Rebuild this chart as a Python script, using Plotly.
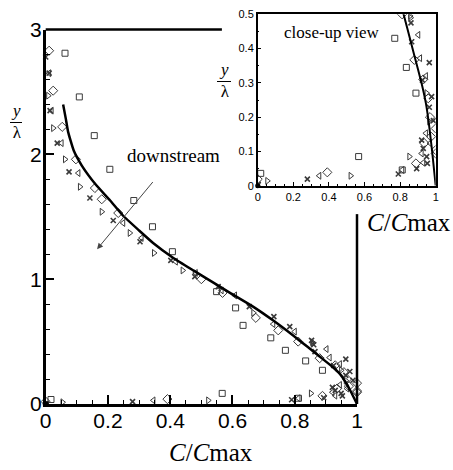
import plotly.graph_objects as go

W, H = 453, 470

# ---------------- data ----------------
curve_C = [0.056, 0.065, 0.072, 0.09, 0.116, 0.16, 0.207, 0.248, 0.30, 0.345, 0.41, 0.474, 0.54, 0.592,
           0.666, 0.73, 0.794, 0.84, 0.88, 0.92, 0.945, 0.962, 0.98, 1.0]
curve_y = [2.40, 2.28, 2.18, 2.03, 1.91, 1.76, 1.63, 1.51, 1.39, 1.29, 1.17, 1.07, 0.97, 0.89,
           0.78, 0.67, 0.55, 0.46, 0.38, 0.30, 0.24, 0.18, 0.10, 0.0]

sq_C = [0.062, 0.108, 0.156, 0.206, 0.283, 0.343, 0.407, 0.549, 0.61, 0.634, 0.723, 0.77, 0.835, 0.889, 0.567, 0.017, 0.812]
sq_y = [2.81, 2.46, 2.15, 1.88, 1.63, 1.42, 1.22, 0.90, 0.77, 0.63, 0.53, 0.43, 0.345, 0.27, 0.085, 0.036, 0.046]

dia_C = [0.011, 0.024, 0.053, 0.097, 0.158, 0.18, 0.233, 0.50, 0.568, 0.675, 0.747, 0.811, 0.88, 0.93, 0.958,
         0.968, 1.0, 0.974, 0.936, 1.0, 1.0, 0.889, 0.391, 0.0]
dia_y = [2.83, 2.51, 2.22, 1.96, 1.73, 1.64, 1.53, 1.0, 0.89, 0.69, 0.59, 0.50, 0.367, 0.31, 0.255,
         0.20, 0.167, 0.143, 0.124, 0.104, 0.094, 0.065, 0.039, 0.019]

tr_C = [0.008, 0.024, 0.062, 0.11, 0.18, 0.27, 0.348, 0.44, 0.667, 0.859, 0.856, 0.949, 0.964, 0.852, 0.054, 0.522]
tr_y = [2.47, 2.21, 1.96, 1.74, 1.54, 1.37, 1.21, 1.07, 0.73, 0.49, 0.495, 0.27, 0.187, 0.085, 0.014, 0.029]

tl_C = [0.011, 0.019, 0.051, 0.105, 0.249, 0.308, 0.418, 0.482, 0.565, 0.608, 0.731, 0.80, 0.902, 0.912, 0.945,
        0.945, 0.968, 0.921, 0.93, 0.812, 0.346]
tl_y = [2.65, 2.35, 2.09, 1.85, 1.45, 1.33, 1.14, 1.05, 0.91, 0.87, 0.64, 0.58, 0.44, 0.372, 0.32,
        0.153, 0.124, 0.094, 0.067, 0.046, 0.029]

x_C = [0.0, 0.011, 0.014, 0.037, 0.075, 0.142, 0.217, 0.303, 0.402, 0.479, 0.554, 0.654, 0.733, 0.784, 0.854,
       0.861, 0.865, 0.964, 0.925, 0.977, 0.964, 0.987, 0.921, 0.93, 0.949, 0.953, 0.893, 0.79, 0.279, 0.0, 0.003]
x_y = [2.78, 2.65, 2.35, 2.09, 1.86, 1.65, 1.47, 1.30, 1.15, 1.02, 0.94, 0.78, 0.70, 0.62, 0.51,
       0.475, 0.42, 0.359, 0.308, 0.26, 0.229, 0.19, 0.133, 0.109, 0.085, 0.065, 0.05, 0.034, 0.019, 0.0, 0.004]

origin_C = [0.0]
origin_y = [0.0]

main_xticks = [0, 0.2, 0.4, 0.6, 0.8, 1]
main_yticks = [0, 1, 2, 3]
inset_xticks = [0, 0.2, 0.4, 0.6, 0.8, 1]
inset_yticks = [0, 0.1, 0.2, 0.3, 0.4, 0.5]

# ---------------- helpers ----------------
def px(xp):
    return xp / W

def py(yp):
    return 1 - yp / H

MK = "#3a3a3a"
series = [
    (sq_C, sq_y, "square-open", 6),
    (dia_C, dia_y, "diamond-open", 7),
    (tr_C, tr_y, "triangle-right-open", 6),
    (tl_C, tl_y, "triangle-left-open", 6),
    (x_C, x_y, "x-thin-open", 5),
]

fig = go.Figure()
for xa, ya, clip in (("x", "y", False), ("x2", "y2", True)):
    for cx, cy, sym, sz in series:
        fig.add_trace(go.Scatter(
            x=cx, y=cy, mode="markers", xaxis=xa, yaxis=ya, cliponaxis=clip,
            marker=dict(symbol=sym, size=sz, color=MK, line=dict(color=MK, width=1.6 if sym.startswith("x") else 1)),
            showlegend=False, hoverinfo="skip"))
    fig.add_trace(go.Scatter(
        x=curve_C, y=curve_y, mode="lines", xaxis=xa, yaxis=ya, cliponaxis=True,
        line=dict(color="black", width=2.5 if xa == "x" else 2, shape="spline", smoothing=0.4),
        showlegend=False, hoverinfo="skip"))
    fig.add_trace(go.Scatter(
        x=origin_C, y=origin_y, mode="markers", xaxis=xa, yaxis=ya, cliponaxis=False,
        marker=dict(symbol="circle", size=6 if xa == "x" else 5, color="black"),
        showlegend=False, hoverinfo="skip"))

tickfont_main = dict(family="Liberation Sans, Arial, sans-serif", size=21, color="black")
tickfont_in = dict(family="Liberation Sans, Arial, sans-serif", size=11, color="black")

common = dict(showgrid=False, zeroline=False, automargin=False, linecolor="black", showline=True)

fig.update_layout(
    width=W, height=H,
    margin=dict(l=0, r=0, t=0, b=0, autoexpand=False),
    paper_bgcolor="white", plot_bgcolor="rgba(0,0,0,0)",
    showlegend=False,
    xaxis=dict(domain=[px(45.7), px(357)], range=[0, 1], anchor="y", linewidth=2.5,
               ticks="inside", ticklen=9, tickwidth=2, tickcolor="black",
               tickvals=main_xticks, tickfont=tickfont_main, ticklabelstandoff=-4,
               minor=dict(dtick=0.05, ticks="inside", ticklen=4, tickwidth=1, tickcolor="black"), **common),
    yaxis=dict(domain=[py(404), py(29.5)], range=[0, 3], anchor="x", linewidth=2.5,
               ticks="inside", ticklen=9, tickwidth=2, tickcolor="black",
               tickvals=main_yticks, tickfont=tickfont_main, ticklabelstandoff=-3,
               minor=dict(dtick=0.2, ticks="inside", ticklen=5, tickwidth=1, tickcolor="black"), **common),
    xaxis2=dict(domain=[px(257.7), px(435.7)], range=[0, 1], anchor="y2", mirror=True, linewidth=1.5,
                ticks="inside", ticklen=4, tickwidth=1, tickcolor="black",
                tickvals=inset_xticks, tickfont=tickfont_in,
                minor=dict(dtick=0.05, ticks="inside", ticklen=2, tickwidth=1, tickcolor="black"), **common),
    yaxis2=dict(domain=[py(185.7), py(14.3)], range=[0, 0.5], anchor="x2", mirror=True, linewidth=1.5,
                ticks="inside", ticklen=4, tickwidth=1, tickcolor="black",
                tickvals=inset_yticks, tickfont=tickfont_in,
                minor=dict(dtick=0.05, ticks="inside", ticklen=2, tickwidth=1, tickcolor="black"), **common),
)

# partial frame of main plot (hidden behind the inset corner)
fig.add_shape(type="line", xref="x domain", yref="y domain", x0=0, x1=0.566, y0=1, y1=1,
              line=dict(color="black", width=2.5))
fig.add_shape(type="line", xref="x domain", yref="y domain", x0=1, x1=1, y0=0, y1=0.507,
              line=dict(color="black", width=2.5))

serif = "Liberation Serif, Times New Roman, serif"
ctitle = "<i>C</i>/<i>C</i>max"
# axis titles
fig.add_annotation(x=px(211), y=py(452), xref="paper", yref="paper", text=ctitle, showarrow=False,
                   xanchor="center", yanchor="middle", font=dict(family=serif, size=25, color="black"))
fig.add_annotation(x=px(409), y=py(222), xref="paper", yref="paper", text=ctitle, showarrow=False,
                   xanchor="center", yanchor="middle", font=dict(family=serif, size=25, color="black"))

# y / lambda fractions (single text block each, with a fraction bar)
for cx, cy, half in ((16, 121.5, 6), (224, 80.5, 7)):
    fig.add_annotation(x=px(cx), y=py(cy), xref="paper", yref="paper", text="<i>y</i><br>λ", showarrow=False,
                       xanchor="center", yanchor="middle", align="center",
                       font=dict(family=serif, size=17, color="black"))
    fig.add_shape(type="line", xref="paper", yref="paper", x0=px(cx - half), x1=px(cx + half),
                  y0=py(cy + 1), y1=py(cy + 1), line=dict(color="black", width=1))

# downstream arrow + label
fig.add_annotation(x=0.165, y=1.24, ax=0.348, ay=1.79, xref="x", yref="y", axref="x", ayref="y",
                   showarrow=True, arrowhead=2, arrowsize=1.2, arrowwidth=1, arrowcolor="#444", text="")
fig.add_annotation(x=0.409, y=1.99, xref="x", yref="y", text="downstream", showarrow=False,
                   xanchor="center", yanchor="middle", font=dict(family=serif, size=19, color="black"))
fig.add_annotation(x=0.42, y=0.448, xref="x2", yref="y2", text="close-up view", showarrow=False,
                   xanchor="center", yanchor="middle", font=dict(family=serif, size=17, color="black"))

fig.write_html("out.html")
